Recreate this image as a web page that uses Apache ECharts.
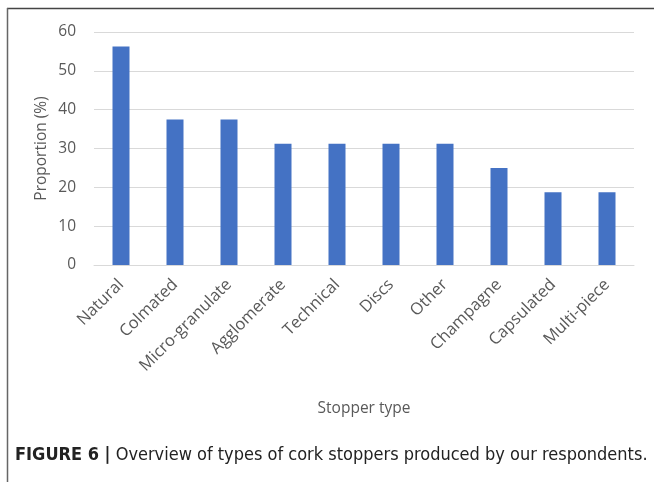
<!DOCTYPE html>
<html><head><meta charset="utf-8">
<script src="https://cdn.jsdelivr.net/npm/echarts@6/dist/echarts.min.js"></script>
<style>html,body{margin:0;padding:0;background:#fff}#c{width:654px;height:482px}</style>
</head><body><div id="c"></div>
<script>
const categories = ['Natural','Colmated','Micro-granulate','Agglomerate','Technical','Discs','Other','Champagne','Capsulated','Multi-piece'];
const values = [56.25,37.5,37.5,31.25,31.25,31.25,31.25,25,18.75,18.75];
const yTicks = {min:0, max:60, interval:10};
const xTitle = 'Stopper type';
const yTitle = 'Proportion (%)';
const captionBold = 'FIGURE 6 |';
const captionText = ' Overview of types of cork stoppers produced by our respondents.';

const chart = echarts.init(document.getElementById('c'), null, {renderer:'canvas'});
const lbl = {color:'#595959', fontFamily:'Open Sans', fontSize:15.5};
chart.setOption({
  animation:false,
  grid:{left:94,right:20,top:32,bottom:217},
  xAxis:{type:'category',data:categories,
    axisLine:{show:true,lineStyle:{color:'#d9d9d9'}},axisTick:{show:false},
    axisLabel:Object.assign({},lbl,{rotate:45,interval:0,margin:17,fontSize:16.5}),
    name:xTitle,nameLocation:'middle',nameGap:136,nameTextStyle:lbl},
  yAxis:{type:'value',min:yTicks.min,max:yTicks.max,interval:yTicks.interval,
    axisLine:{show:false},axisTick:{show:false},
    splitLine:{lineStyle:{color:'#d9d9d9'}},
    axisLabel:Object.assign({margin:18},lbl),
    name:yTitle,nameLocation:'middle',nameGap:44,nameMoveOverlap:false,nameTextStyle:lbl},
  series:[{type:'bar',data:values,barWidth:17,itemStyle:{color:'#4472C4'}}],
  graphic:[
    {type:'line',shape:{x1:7,y1:8.5,x2:654,y2:8.5},style:{stroke:'#444',lineWidth:1.5}},
    {type:'line',shape:{x1:7.5,y1:8,x2:7.5,y2:482},style:{stroke:'#666',lineWidth:1.5}},
    {type:'text',left:15,top:446,style:{
      text:'{b|'+captionBold+'}{r|'+captionText+'}',
      rich:{b:{fontFamily:'DejaVu Sans Condensed',fontWeight:'bold',fontSize:18,fill:'#222'},
            r:{fontFamily:'DejaVu Sans Condensed',fontSize:18,fill:'#222'}}}}
  ]
});
</script></body></html>
